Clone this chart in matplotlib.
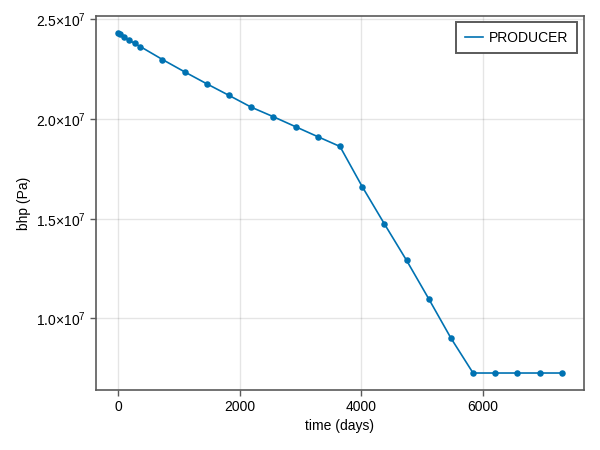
import matplotlib
matplotlib.use("Agg")
import matplotlib.pyplot as plt
from matplotlib.ticker import FuncFormatter, MultipleLocator

plt.rcParams['font.family'] = ['Liberation Sans', 'DejaVu Sans']
plt.rcParams['mathtext.fontset'] = 'custom'
plt.rcParams['mathtext.rm'] = 'Liberation Sans'
plt.rcParams['mathtext.it'] = 'Liberation Sans'

# report times (days) and producer bottom hole pressure (Pa)
time_days = [1, 30, 91, 182, 273, 365, 730, 1095, 1460, 1825, 2190, 2555, 2920,
             3285, 3650, 4015, 4380, 4745, 5110, 5475, 5840, 6205, 6570, 6935, 7300]
bhp = [2.432e7, 2.425e7, 2.411e7, 2.395e7, 2.380e7, 2.364e7, 2.299e7, 2.237e7,
       2.177e7, 2.119e7, 2.060e7, 2.012e7, 1.962e7, 1.912e7, 1.863e7, 1.662e7,
       1.475e7, 1.292e7, 1.099e7, 9.02e6, 7.265e6, 7.265e6, 7.265e6, 7.265e6, 7.265e6]
well_name = "PRODUCER"

blue = "#0072B2"
frame = "#5a5a5a"

fig = plt.figure(figsize=(6, 4.5), dpi=100)
ax = fig.add_axes([0.16, 0.1333, 0.8133, 0.8311])

ax.plot(time_days, bhp, color=blue, lw=1.2, label=well_name, zorder=3)
ax.scatter(time_days, bhp, color=blue, s=22, zorder=4, linewidths=0)
ax.margins(0.05)

ax.xaxis.set_major_locator(MultipleLocator(2000))
ax.yaxis.set_major_locator(MultipleLocator(5e6))
ax.yaxis.set_major_formatter(FuncFormatter(lambda v, p: f"{v / 1e7:.1f}" + r"$\times\mathregular{10^{7}}$"))

ax.grid(True, color="black", alpha=0.1, lw=1)
ax.set_axisbelow(True)
for s in ax.spines.values():
    s.set_color(frame)
    s.set_linewidth(1.2)
ax.tick_params(direction="out", length=4, width=1, color=frame,
               labelsize=10, pad=3)

ax.set_xlabel("time (days)", fontsize=10, labelpad=4)
ax.set_ylabel("bhp (Pa)", fontsize=10, labelpad=4)

leg = ax.legend(loc="upper right", fontsize=10, fancybox=False,
                handlelength=1.3, handletextpad=0.45, borderpad=0.6,
                borderaxespad=0, framealpha=1,
                bbox_to_anchor=(0.985, 0.983))
leg.get_frame().set_edgecolor(frame)
leg.get_frame().set_linewidth(1.4)

fig.savefig("out.png", dpi=100)
